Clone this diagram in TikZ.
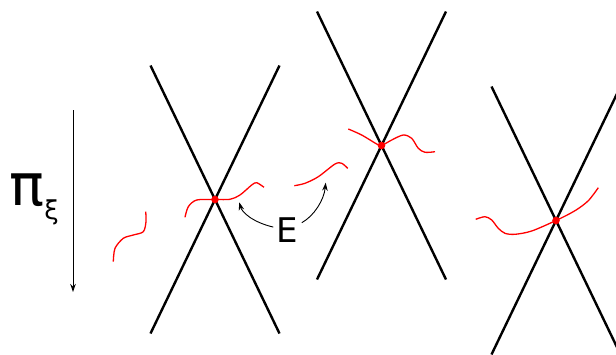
\documentclass[tikz,border=0pt]{standalone}
\usepackage{fontspec}
\setmainfont{DejaVu Sans}
\usetikzlibrary{arrows.meta}
\begin{document}
\begin{tikzpicture}[x=1pt, y=-1pt, >={Stealth[length=8pt, width=5.5pt, inset=2.5pt]}]
		\useasboundingbox (0,0) rectangle (616,354);
		\clip (0,0) rectangle (616,354);
		% the three crossings
		\foreach \cx/\cy [count=\i] in {215/199.5, 381.5/145.5, 556/220.5} {
			\coordinate (c\i) at (\cx,\cy);
			\draw [line width=2.4pt, shift={(c\i)}] (-64.5,-134) -- (64.5,134);
			\draw [line width=2.4pt, shift={(c\i)}] (64.5,-134) -- (-64.5,134);
		}
		% red curves
		\draw [red, line width=1.3pt, smooth] plot coordinates {(113.3,261.7) (115,248.3) (123.3,238.3) (133.3,235) (143.3,231.7) (146,221.7) (145.7,211.7)};
		\draw [red, line width=1.3pt, smooth] plot coordinates {(185,217.3) (188.3,206.7) (196.7,200) (215,199.5) (230,199.3) (240,195) (251.7,185) (256.7,182.7) (264,187.3)};
		\draw [red, line width=1.3pt, smooth] plot coordinates {(294.3,185.7) (305,183.3) (318.3,176.7) (335,164) (341.7,163.3) (347.7,168.3)};
		\draw [red, line width=1.3pt, smooth] plot coordinates {(348.3,129) (361.7,135) (376.7,144) (381.5,145.5) (391.7,140) (403.3,135) (411.7,138.3) (418.3,148.3) (425,152.3) (435,151.7)};
		\draw [red, line width=1.3pt, smooth] plot coordinates {(475.7,219.3) (485,216.7) (491.7,220) (498.3,228.3) (505,233.3) (515,234.3) (531.7,231) (556,220.5) (575,210.7) (588.3,200.7) (598.3,187.7)};
		\foreach \i in {1,2,3} \fill [red] (c\i) circle (3.8);
		% projection
		\coordinate (top) at (73,110);
		\coordinate (bot) at (73,292);
		\draw [->, line width=1pt] (top) -- (bot);
		\node (pi) at (27,190) {\fontsize{58}{58}\selectfont π};
		\node (xi) at (51.5,212) {\fontsize{26}{26}\selectfont ξ};
		% label E
		\node (E) at (287.5,230.5) {\fontsize{34}{34}\selectfont E};
		\coordinate (e1) at (239.3,202.3);
		\coordinate (e2) at (325.7,182.7);
		\draw [->, line width=0.9pt] (E) .. controls (252,222) and (242,212) .. (e1);
		\draw [->, line width=0.9pt] (E) .. controls (314,216) and (324,200) .. (e2);
		%\draw (0,0) rectangle (616,354);
	\end{tikzpicture}
\end{document}
